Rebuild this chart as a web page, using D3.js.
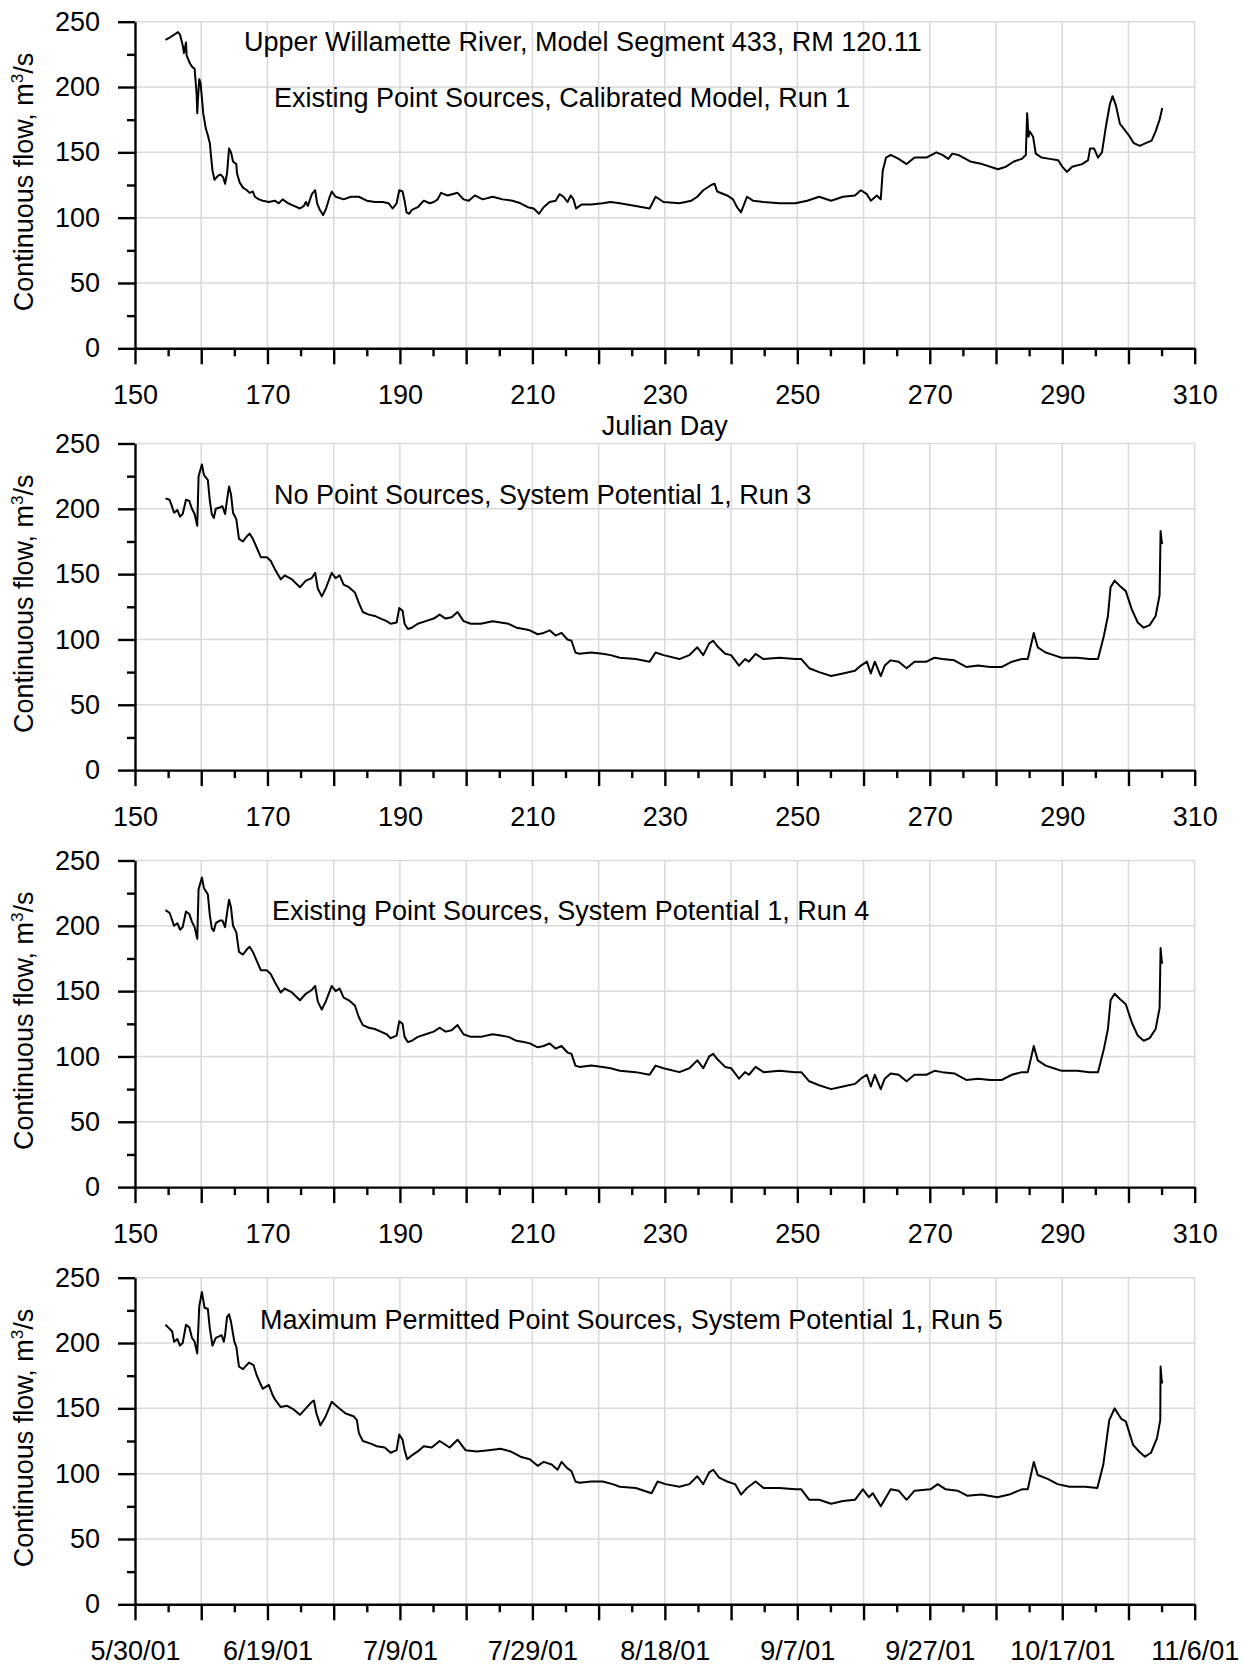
<!DOCTYPE html>
<html>
<head>
<meta charset="utf-8">
<script src="https://cdn.jsdelivr.net/npm/d3@7"></script>
<style>
  body { margin: 0; background: #fff; }
  svg { display: block; font-family: "Liberation Sans", Arial, sans-serif; }
</style>
</head>
<body>
<svg id="chart" width="1244" height="1666"></svg>
<script>
// ---------------------------------------------------------------------------
// Datos (día juliano, caudal m3/s)
const dayLabels = [150, 170, 190, 210, 230, 250, 270, 290, 310];
const dateLabels = ["5/30/01", "6/19/01", "7/9/01", "7/29/01", "8/18/01", "9/7/01", "9/27/01", "10/17/01", "11/6/01"];
const flowLabels = [0, 50, 100, 150, 200, 250];

const panelTitles = [
    ["Upper Willamette River, Model Segment 433, RM 120.11", "Existing Point Sources, Calibrated Model, Run 1"],
    ["No Point Sources, System Potential 1, Run 3"],
    ["Existing Point Sources, System Potential 1, Run 4"],
    ["Maximum Permitted Point Sources, System Potential 1, Run 5"]
];

const run1 = [[154.6,236],[155.3,238],[155.9,240],[156.5,242],[156.8,240],[157.2,232],[157.4,226],[157.7,234],[157.8,224],[158.3,218],[158.7,215],[159.0,214],[159.3,195],[159.4,180],[159.5,190],[159.7,206],[159.9,203],[160.1,192],[160.3,180],[160.7,168],[161.0,163],[161.3,157],[161.5,146],[161.7,136],[162.0,129],[162.5,132],[162.9,133],[163.3,131],[163.6,126],[163.9,134],[164.2,153],[164.5,150],[164.8,143],[165.3,141],[165.4,134],[165.8,127],[166.3,123],[166.9,121],[167.3,119],[167.8,120],[168.1,116],[168.7,114],[169.3,113],[170.2,112],[171.1,113],[171.7,111],[172.3,114],[173.1,111],[174.0,109],[174.9,107],[175.5,109],[175.8,112],[176.1,109],[176.7,118],[177.2,121],[177.5,111],[177.9,106],[178.4,102],[178.8,106],[179.4,116],[179.7,120],[180.3,116],[181.5,114],[182.6,116],[183.8,116],[185.0,113],[186.2,112],[187.4,112],[188.3,111],[188.9,107],[189.5,111],[189.9,121],[190.4,120],[190.7,113],[191.0,104],[191.4,103],[191.8,106],[192.7,108],[193.6,113],[194.5,111],[195.1,112],[195.7,114],[196.2,119],[197.2,117],[198.7,119],[199.6,114],[200.4,113],[201.3,117],[202.5,114],[204.0,116],[205.5,114],[207.0,113],[208.2,111],[209.3,108],[210.2,107],[211.0,103],[211.7,108],[212.6,112],[213.5,113],[214.1,118],[214.7,116],[215.3,112],[215.8,117],[216.2,114],[216.6,107],[217.4,110],[218.9,110],[220.6,111],[221.8,112],[223.2,111],[225.6,109],[227.7,107],[228.6,116],[229.8,112],[232.2,111],[234.0,113],[234.9,116],[235.8,121],[237.0,125],[237.5,126],[237.9,120],[239.4,117],[240.3,114],[240.9,108],[241.5,104],[242.4,116],[243.3,113],[244.9,112],[247.3,111],[249.7,111],[251.5,113],[253.3,116],[255.1,113],[256.9,116],[258.7,117],[259.6,121],[260.5,118],[261.1,113],[262.0,117],[262.6,114],[262.9,136],[263.4,146],[264.1,148],[265.3,145],[266.5,141],[267.7,146],[269.5,146],[271.0,150],[271.9,148],[272.8,145],[273.4,149],[274.3,148],[276.1,143],[277.9,141],[280.3,137],[281.5,139],[282.7,143],[283.9,145],[284.5,148],[284.7,180],[284.9,162],[285.1,166],[285.6,162],[286.0,149],[286.9,146],[288.1,145],[289.4,144],[290.0,139],[290.7,135],[291.5,139],[293.0,141],[293.9,144],[294.2,153],[294.8,153],[295.4,146],[296.0,150],[296.6,170],[297.2,187],[297.6,193],[298.1,186],[298.7,172],[299.6,166],[300.2,162],[300.8,157],[301.7,155],[302.6,157],[303.5,159],[304.1,166],[304.7,175],[305.1,184]];

const run3 = [[154.6,208],[155.2,207],[155.5,203],[155.9,197],[156.4,199],[156.8,194],[157.2,196],[157.7,207],[158.2,206],[158.6,200],[159.0,196],[159.4,187],[159.6,225],[160.1,234],[160.4,226],[161.0,222],[161.3,206],[161.6,196],[161.9,193],[162.2,200],[162.8,201],[163.2,202],[163.6,196],[163.9,207],[164.2,217],[164.5,211],[164.8,197],[165.3,192],[165.7,177],[166.3,175],[166.9,179],[167.3,181],[167.8,177],[168.4,170],[169.0,163],[169.9,163],[170.5,160],[171.1,154],[172.0,146],[172.6,149],[173.7,146],[174.9,140],[175.8,145],[176.7,147],[177.2,151],[177.6,139],[178.2,133],[178.8,139],[179.7,151],[180.3,147],[180.9,149],[181.5,142],[182.3,140],[183.2,136],[183.8,128],[184.4,121],[185.3,119],[186.2,118],[187.1,116],[188.0,114],[188.6,112],[189.5,113],[189.9,124],[190.4,122],[190.7,112],[191.2,108],[191.8,109],[192.7,112],[193.9,114],[195.1,116],[196.0,119],[196.9,116],[197.8,117],[198.7,121],[199.6,114],[200.7,112],[202.2,112],[204.0,114],[205.2,113],[206.4,112],[207.6,109],[208.7,108],[209.6,107],[210.8,104],[211.7,105],[212.6,107],[213.5,103],[214.4,105],[215.3,100],[215.9,99],[216.5,90],[217.1,89],[218.9,90],[220.6,89],[221.8,88],[223.2,86],[225.6,85],[227.7,83],[228.6,90],[229.8,88],[232.2,85],[233.7,88],[234.9,94],[235.8,88],[236.7,97],[237.3,99],[237.9,95],[239.1,89],[240.0,88],[241.2,80],[242.1,85],[242.7,83],[243.7,89],[244.9,85],[247.3,86],[249.7,85],[250.6,85],[251.8,78],[253.3,75],[255.1,72],[256.9,74],[258.7,76],[259.6,80],[260.5,83],[261.1,74],[261.7,83],[262.6,72],[263.2,80],[264.1,84],[265.3,83],[266.5,78],[267.7,83],[269.5,83],[270.7,86],[271.9,85],[273.7,84],[275.5,79],[277.3,80],[279.1,79],[280.9,79],[282.4,83],[283.9,85],[284.8,85],[285.7,105],[286.3,94],[287.5,90],[288.7,88],[289.9,86],[292.3,86],[294.1,85],[295.4,85],[296.3,103],[296.9,118],[297.3,140],[297.9,145],[298.7,141],[299.6,137],[300.5,123],[301.4,113],[302.3,109],[303.2,111],[304.1,118],[304.7,134],[304.85,183],[305.0,176],[305.1,173]];

const run4 = [[154.6,212],[155.2,210],[155.5,206],[155.9,200],[156.4,202],[156.8,197],[157.2,199],[157.7,211],[158.2,209],[158.6,203],[159.0,199],[159.4,190],[159.6,228],[160.1,237],[160.4,229],[161.0,224],[161.3,208],[161.6,198],[161.9,196],[162.2,202],[162.8,204],[163.2,204],[163.6,199],[163.9,210],[164.2,220],[164.5,214],[164.8,200],[165.3,195],[165.7,180],[166.3,178],[166.9,182],[167.3,184],[167.8,180],[168.4,173],[169.0,166],[169.9,166],[170.5,163],[171.1,157],[172.0,149],[172.6,152],[173.7,149],[174.9,143],[175.8,148],[176.7,151],[177.2,154],[177.6,142],[178.2,136],[178.8,142],[179.7,154],[180.3,150],[180.9,152],[181.5,145],[182.3,143],[183.2,139],[183.8,130],[184.4,124],[185.3,122],[186.2,121],[187.1,119],[188.0,117],[188.6,114],[189.5,116],[189.9,127],[190.4,125],[190.7,115],[191.2,111],[191.8,112],[192.7,115],[193.9,117],[195.1,119],[196.0,122],[196.9,119],[197.8,120],[198.7,124],[199.6,117],[200.7,115],[202.2,115],[204.0,117],[205.2,116],[206.4,115],[207.6,112],[208.7,111],[209.6,110],[210.8,107],[211.7,108],[212.6,110],[213.5,106],[214.4,108],[215.3,103],[215.9,102],[216.5,93],[217.1,92],[218.9,93],[220.6,92],[221.8,91],[223.2,89],[225.6,88],[227.7,86],[228.6,93],[229.8,91],[232.2,88],[233.7,91],[234.9,97],[235.8,91],[236.7,100],[237.3,102],[237.9,98],[239.1,92],[240.0,91],[241.2,83],[242.1,88],[242.7,86],[243.7,92],[244.9,88],[247.3,89],[249.7,88],[250.6,88],[251.8,81],[253.3,78],[255.1,75],[256.9,77],[258.7,79],[259.6,83],[260.5,86],[261.1,77],[261.7,86],[262.6,75],[263.2,83],[264.1,87],[265.3,86],[266.5,81],[267.7,86],[269.5,86],[270.7,89],[271.9,88],[273.7,87],[275.5,82],[277.3,83],[279.1,82],[280.9,82],[282.4,86],[283.9,88],[284.8,88],[285.7,108],[286.3,97],[287.5,93],[288.7,91],[289.9,89],[292.3,89],[294.1,88],[295.4,88],[296.3,106],[296.9,121],[297.3,143],[297.9,148],[298.7,144],[299.6,140],[300.5,126],[301.4,116],[302.3,112],[303.2,114],[304.1,121],[304.7,137],[304.85,183],[305.0,174],[305.1,171]];

const run5 = [[154.6,214],[155.2,211],[155.6,209],[155.9,201],[156.4,203],[156.8,198],[157.2,200],[157.7,214],[158.2,212],[158.6,204],[159.0,201],[159.4,192],[159.7,228],[160.1,239],[160.5,227],[161.0,226],[161.3,211],[161.7,198],[162.2,204],[163.1,206],[163.4,201],[163.6,206],[163.9,220],[164.2,222],[164.5,216],[165.0,201],[165.3,197],[165.7,182],[166.3,180],[167.2,185],[167.9,183],[168.4,175],[169.0,168],[169.3,165],[170.2,168],[170.8,160],[171.1,157],[172.0,151],[172.9,152],[174.0,149],[174.9,145],[175.8,150],[176.7,155],[177.0,156],[177.4,146],[178.0,137],[178.8,144],[179.7,155],[180.6,151],[181.8,146],[183.0,144],[183.5,141],[183.8,131],[184.4,125],[185.6,123],[186.5,121],[187.7,120],[188.6,116],[189.5,118],[189.9,130],[190.4,126],[190.7,118],[191.1,111],[191.8,114],[192.7,117],[193.6,121],[194.8,120],[196.0,125],[197.5,120],[198.7,126],[199.9,118],[201.6,117],[203.4,118],[205.2,119],[206.7,117],[208.2,113],[209.6,111],[210.8,106],[211.7,109],[212.9,107],[213.8,103],[214.4,109],[215.3,104],[215.9,102],[216.5,94],[217.1,93],[218.9,94],[220.6,94],[222.1,92],[223.2,90],[225.6,89],[228.0,85],[228.9,94],[230.1,92],[232.2,90],[233.7,92],[234.9,98],[235.8,92],[236.7,101],[237.3,103],[238.2,97],[239.4,94],[240.6,92],[241.5,84],[242.4,89],[243.7,94],[244.9,89],[247.3,89],[249.7,88],[250.6,88],[251.8,80],[253.3,80],[255.1,77],[256.9,79],[258.7,80],[259.9,88],[260.8,82],[261.4,85],[262.6,75],[264.1,88],[265.3,87],[266.5,80],[267.7,87],[270.1,88],[271.2,92],[272.4,88],[274.2,87],[275.7,83],[277.8,84],[280.2,82],[282.0,84],[283.9,88],[284.8,88],[285.7,109],[286.3,99],[287.8,96],[289.3,92],[291.1,90],[293.5,90],[295.3,89],[296.2,107],[297.1,141],[297.9,150],[298.9,142],[299.6,140],[300.7,122],[301.6,117],[302.5,113],[303.4,116],[304.3,127],[304.8,141],[304.85,182],[305.0,172],[305.1,169]];

const series = [run1, run3, run4, run5];

// ---------------------------------------------------------------------------
// Geometría
const plotLeft = 135, plotWidth = 1059.7, plotHeight = 326.6;
const panelTops = [21.7, 443.5, 860.5, 1277.7];
// desplazamientos de los textos dentro de cada panel (px)
const titleOffsets = [[[109, 29.6], [139, 85]], [[139, 60.5]], [[137, 59.5]], [[125, 51.3]]];
const fontSize = 27;
const gridColor = "#d9d9d9";

const svg = d3.select("#chart");

const x = d3.scaleLinear().domain([150, 310]).range([0, plotWidth]);
const y = d3.scaleLinear().domain([0, 250]).range([plotHeight, 0]);

const line = d3.line().x(d => x(d[0])).y(d => y(d[1]));

function drawPanel(i) {
    const g = svg.append("g").attr("transform", `translate(${plotLeft},${panelTops[i]})`);

    // rejilla
    g.append("g").selectAll("line").data(d3.range(50, 251, 50)).enter().append("line")
        .attr("x1", 0).attr("x2", plotWidth)
        .attr("y1", d => y(d)).attr("y2", d => y(d))
        .attr("stroke", gridColor).attr("stroke-width", 1.5);
    g.append("g").selectAll("line").data(d3.range(160, 311, 10)).enter().append("line")
        .attr("x1", d => x(d)).attr("x2", d => x(d))
        .attr("y1", 0).attr("y2", plotHeight)
        .attr("stroke", gridColor).attr("stroke-width", 1.5);

    // serie
    g.append("path").datum(series[i])
        .attr("d", line)
        .attr("fill", "none")
        .attr("stroke", "#000")
        .attr("stroke-width", 2)
        .attr("stroke-linejoin", "round");

    // ejes: marcas menores
    g.append("g").attr("transform", `translate(0,${plotHeight})`)
        .call(d3.axisBottom(x).tickValues(d3.range(155, 310, 10)).tickSize(8).tickFormat(""))
        .call(a => a.select(".domain").remove());
    g.append("g")
        .call(d3.axisLeft(y).tickValues(d3.range(25, 250, 50)).tickSize(8).tickFormat(""))
        .call(a => a.select(".domain").remove());

    // eje X principal
    const xAxis = d3.axisBottom(x)
        .tickValues(d3.range(150, 311, 10))
        .tickSize(16).tickSizeOuter(0)
        .tickFormat(d => {
            const k = dayLabels.indexOf(d);
            if (k < 0) return "";
            return i === 3 ? dateLabels[k] : String(d);
        });
    const gx = g.append("g").attr("transform", `translate(0,${plotHeight})`).call(xAxis);
    gx.selectAll("text").attr("y", 55.5).attr("dy", 0);

    // eje Y principal
    const gy = g.append("g")
        .call(d3.axisLeft(y).tickValues(flowLabels).tickSize(17).tickPadding(18).tickSizeOuter(0));

    [gx, gy].forEach(a => {
        a.selectAll("path, line").attr("stroke", "#000").attr("stroke-width", 2.4);
        a.selectAll("text").attr("fill", "#000").style("font-size", fontSize + "px");
    });
    g.selectAll(".tick line").attr("stroke", "#000").attr("stroke-width", 2.4);
    g.selectAll(".tick text").style("font-size", fontSize + "px").attr("fill", "#000");

    // título del eje Y
    const yl = svg.append("text")
        .attr("transform", `translate(33,${panelTops[i] + plotHeight / 2 - 3}) rotate(-90)`)
        .attr("text-anchor", "middle")
        .style("font-size", fontSize + "px")
        .attr("fill", "#000");
    yl.append("tspan").text("Continuous flow, m");
    yl.append("tspan").text("3").attr("dy", -10).style("font-size", "17px");
    yl.append("tspan").text("/s").attr("dy", 10);

    // textos del panel
    panelTitles[i].forEach((t, k) => {
        g.append("text")
            .attr("x", titleOffsets[i][k][0])
            .attr("y", titleOffsets[i][k][1])
            .style("font-size", fontSize + "px")
            .attr("fill", "#000")
            .text(t);
    });
}

series.forEach((s, i) => drawPanel(i));

// etiqueta del eje X del primer panel
svg.append("text")
    .attr("x", plotLeft + x(230))
    .attr("y", panelTops[0] + plotHeight + 87)
    .attr("text-anchor", "middle")
    .style("font-size", fontSize + "px")
    .attr("fill", "#000")
    .text("Julian Day");
</script>
</body>
</html>
